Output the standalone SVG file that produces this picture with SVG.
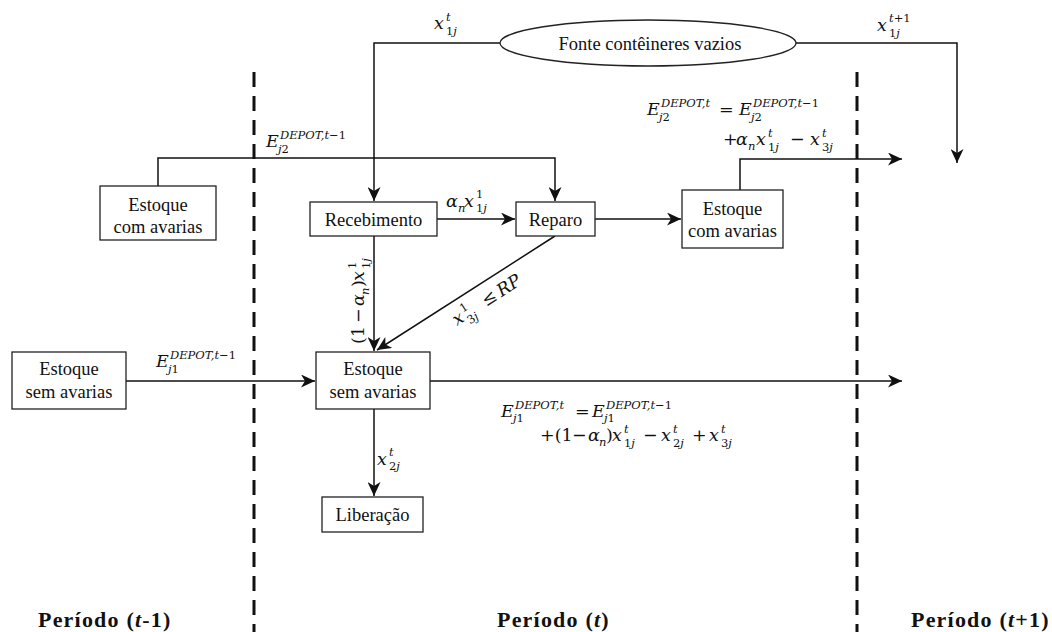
<svg xmlns="http://www.w3.org/2000/svg" width="1052" height="632" viewBox="0 0 1052 632">
<style>
.box{fill:#fff;stroke:#222;stroke-width:1.3}
.lbl{font-family:'Liberation Serif','Times New Roman',serif;font-size:18.5px;fill:#111;text-anchor:middle}
.m{font-family:'DejaVu Serif',serif;font-style:italic;font-size:17.5px;fill:#111}
.s{font-size:11.5px}
.u{font-style:normal}
.conn{fill:none;stroke:#111;stroke-width:1.5}
.dash{fill:none;stroke:#111;stroke-width:3;stroke-dasharray:15 9}
.per{font-family:'Liberation Serif','Times New Roman',serif;font-weight:bold;font-size:22px;letter-spacing:1.2px;fill:#111}
</style>
<defs>
<marker id="ah" markerUnits="userSpaceOnUse" markerWidth="15" markerHeight="13" refX="14" refY="6.5" orient="auto">
<path d="M0,0 L14,6.5 L0,13 L4,6.5 z" fill="#111"/>
</marker>
</defs>
<rect width="1052" height="632" fill="#fff"/>
<g id="dividers">
<line class="dash" x1="254" y1="72" x2="254" y2="632"/>
<line class="dash" x1="857" y1="72" x2="857" y2="632"/>
</g>
<g id="connectors">
<path class="conn" d="M500,43 L374,43 L374,201" marker-end="url(#ah)"/>
<path class="conn" d="M796,43 L957,43 L957,163" marker-end="url(#ah)"/>
<path class="conn" d="M158,186 L158,158 L555,158 L555,201" marker-end="url(#ah)"/>
<path class="conn" d="M437,219 L515,219" marker-end="url(#ah)"/>
<path class="conn" d="M595,219 L681,219" marker-end="url(#ah)"/>
<path class="conn" d="M740,190 L740,159 L902,159" marker-end="url(#ah)"/>
<path class="conn" d="M374,236 L374,351" marker-end="url(#ah)"/>
<path class="conn" d="M555,236 L377,350" marker-end="url(#ah)"/>
<path class="conn" d="M126,381 L315,381" marker-end="url(#ah)"/>
<path class="conn" d="M430,381 L902,381" marker-end="url(#ah)"/>
<path class="conn" d="M374,409 L374,496" marker-end="url(#ah)"/>
</g>
<g id="fonte">
<ellipse cx="648" cy="43" rx="148" ry="23" fill="#fff" stroke="#222" stroke-width="1.3"/>
<text class="lbl" x="650" y="50">Fonte contêineres vazios</text>
</g>
<g id="estoque-com-avarias-ant">
<rect class="box" x="100" y="186" width="116" height="54"/>
<text class="lbl" x="158" y="211">Estoque</text>
<text class="lbl" x="158" y="233">com avarias</text>
</g>
<g id="recebimento">
<rect class="box" x="310" y="202" width="127" height="34"/>
<text class="lbl" x="373.5" y="226">Recebimento</text>
</g>
<g id="reparo">
<rect class="box" x="516" y="202" width="79" height="34"/>
<text class="lbl" x="555.5" y="226">Reparo</text>
</g>
<g id="estoque-com-avarias">
<rect class="box" x="682" y="190" width="101" height="58"/>
<text class="lbl" x="732.5" y="215">Estoque</text>
<text class="lbl" x="732.5" y="237">com avarias</text>
</g>
<g id="estoque-sem-avarias-ant">
<rect class="box" x="12" y="352" width="114" height="57"/>
<text class="lbl" x="69" y="375">Estoque</text>
<text class="lbl" x="69" y="398">sem avarias</text>
</g>
<g id="estoque-sem-avarias">
<rect class="box" x="316" y="352" width="114" height="57"/>
<text class="lbl" x="373" y="375">Estoque</text>
<text class="lbl" x="373" y="398">sem avarias</text>
</g>
<g id="liberacao">
<rect class="box" x="322" y="497" width="101" height="35"/>
<text class="lbl" x="372.5" y="521">Liberação</text>
</g>
<g id="labels">
<text class="m"><tspan x="434" y="29">x</tspan><tspan class="s" x="446" y="21">t</tspan><tspan class="s u" x="446" y="35">1</tspan><tspan class="s">j</tspan></text>
<text class="m"><tspan x="877" y="31">x</tspan><tspan class="s" x="889" y="22">t</tspan><tspan class="s u">+1</tspan><tspan class="s u" x="889" y="37">1</tspan><tspan class="s">j</tspan></text>
<text class="m"><tspan x="266" y="147">E</tspan><tspan class="s" x="280" y="139">DEPOT,t</tspan><tspan class="s u">−1</tspan><tspan class="s" x="278" y="153">j</tspan><tspan class="s u">2</tspan></text>
<text class="m"><tspan x="156" y="367">E</tspan><tspan class="s" x="170" y="359">DEPOT,t</tspan><tspan class="s u">−1</tspan><tspan class="s" x="168" y="373">j</tspan><tspan class="s u">1</tspan></text>
<text class="m"><tspan x="647" y="115">E</tspan><tspan class="s" x="661" y="107">DEPOT,t</tspan><tspan class="s" x="659" y="121">j</tspan><tspan class="s u">2</tspan><tspan class="u" x="719" y="115">=</tspan><tspan x="739" y="115">E</tspan><tspan class="s" x="753" y="107">DEPOT,t</tspan><tspan class="s u">−1</tspan><tspan class="s" x="751" y="121">j</tspan><tspan class="s u">2</tspan></text>
<text class="m"><tspan class="u" x="723" y="145">+</tspan><tspan x="736" y="145">α</tspan><tspan class="s" x="748" y="150">n</tspan><tspan x="756" y="145">x</tspan><tspan class="s" x="768" y="137">t</tspan><tspan class="s u" x="768" y="151">1</tspan><tspan class="s">j</tspan><tspan class="u" x="790" y="145">−</tspan><tspan x="810" y="145">x</tspan><tspan class="s" x="822" y="137">t</tspan><tspan class="s u" x="822" y="151">3</tspan><tspan class="s">j</tspan></text>
<text class="m"><tspan x="501" y="417">E</tspan><tspan class="s" x="515" y="409">DEPOT,t</tspan><tspan class="s" x="513" y="422">j</tspan><tspan class="s u">1</tspan><tspan class="u" x="575" y="417">=</tspan><tspan x="592" y="417">E</tspan><tspan class="s" x="606" y="409">DEPOT,t</tspan><tspan class="s u">−1</tspan><tspan class="s" x="604" y="422">j</tspan><tspan class="s u">1</tspan></text>
<text class="m"><tspan class="u" x="540" y="441">+(1</tspan><tspan class="u" x="572" y="441">−</tspan><tspan x="588" y="441">α</tspan><tspan class="s" x="599" y="446">n</tspan><tspan class="u" x="606" y="441">)</tspan><tspan x="612" y="441">x</tspan><tspan class="s" x="624" y="433">t</tspan><tspan class="s u" x="624" y="447">1</tspan><tspan class="s">j</tspan><tspan class="u" x="643" y="441">−</tspan><tspan x="661" y="441">x</tspan><tspan class="s" x="673" y="433">t</tspan><tspan class="s u" x="673" y="447">2</tspan><tspan class="s">j</tspan><tspan class="u" x="692" y="441">+</tspan><tspan x="709" y="441">x</tspan><tspan class="s" x="721" y="433">t</tspan><tspan class="s u" x="721" y="447">3</tspan><tspan class="s">j</tspan></text>
<text class="m"><tspan x="446" y="207">α</tspan><tspan class="s" x="458" y="212">n</tspan><tspan x="464" y="207">x</tspan><tspan class="s u" x="476" y="198">1</tspan><tspan class="s u" x="476" y="212">1</tspan><tspan class="s">j</tspan></text>
<text class="m"><tspan x="377" y="465">x</tspan><tspan class="s" x="389" y="456">t</tspan><tspan class="s u" x="389" y="470">2</tspan><tspan class="s">j</tspan></text>
<g transform="translate(364,344) rotate(-90)">
<text class="m"><tspan class="u" x="0" y="0">(1</tspan><tspan class="u" x="21" y="0">−</tspan><tspan x="38" y="0">α</tspan><tspan class="s" x="49" y="5">n</tspan><tspan class="u" x="57" y="0">)</tspan><tspan x="63" y="0">x</tspan><tspan class="s u" x="75" y="-8">1</tspan><tspan class="s u" x="75" y="6">1</tspan><tspan class="s">j</tspan></text>
</g>
<g transform="translate(457,326) rotate(-33)">
<text class="m"><tspan x="0" y="0">x</tspan><tspan class="s u" x="12" y="-8">1</tspan><tspan class="s u" x="12" y="6">3</tspan><tspan class="s">j</tspan><tspan class="u" x="35" y="0">≤</tspan><tspan x="53" y="0">RP</tspan></text>
</g>
</g>
<g id="periods">
<text class="per" x="38" y="627">Período (<tspan font-style="italic">t</tspan>-1)</text>
<text class="per" x="497" y="627">Período (<tspan font-style="italic">t</tspan>)</text>
<text class="per" x="911" y="627">Período (<tspan font-style="italic">t</tspan>+1)</text>
</g>
</svg>
